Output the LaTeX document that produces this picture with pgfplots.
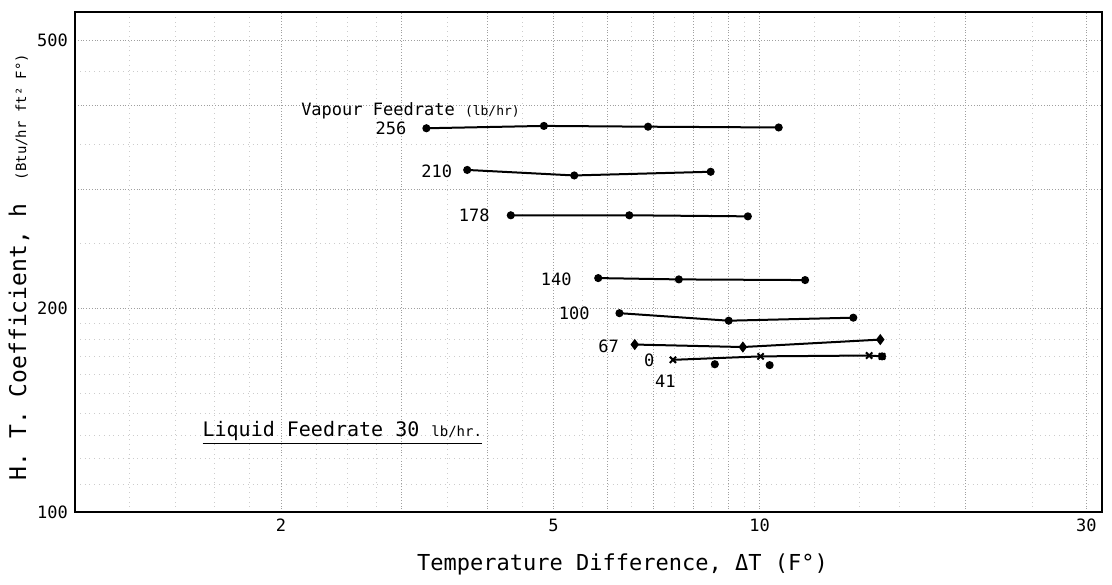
\documentclass[border=0pt]{standalone}
\usepackage{fontspec}
\setmainfont{DejaVu Sans Mono}
\usepackage{pgfplots}
\pgfplotsset{compat=1.18}

\begin{document}
\begin{tikzpicture}
\useasboundingbox (-37.5pt,-36pt) rectangle (518.5pt,256pt);
\begin{axis}[
    at={(0,0)}, anchor=south west,
    scale only axis,
    width=513.5pt, height=250pt,
    xmode=log, ymode=log,
    xmin=1, xmax=31.62, ymin=100, ymax=550,
    axis line style={line width=1.4pt},
    xtick={2,3,4,5,6,7,8,9,10,20,30},
    xticklabels={2,,,5,,,,,10,,30},
    ytick={100,200,300,400,500},
    yticklabels={100,200,,,500},
    minor xtick={1.2,1.4,1.6,1.8,2.25,2.5,2.75,3.5,4.5,5.5,6.5,7.5,8.5,9.5,12,14,16,18,25},
    minor ytick={110,120,130,140,150,160,170,180,190,250,350,450},
    major tick length=0pt, minor tick length=0pt,
    grid=both,
    major grid style={gray!75, densely dotted, line width=0.4pt},
    minor grid style={gray!40, dotted, line width=0.3pt},
    tick label style={font=\fontsize{8.5}{9}\selectfont},
    /pgf/number format/assume math mode=true,
    xlabel={Temperature Difference, ΔT (F°)},
    xlabel style={at={(axis description cs:0.5,0)}, anchor=center, yshift=-26pt, xshift=17pt,
      font=\fontsize{11}{12}\selectfont},
    ylabel={H. T. Coefficient, h\quad{\fontsize{7}{8}\selectfont (Btu/hr ft² F°)}},
    ylabel style={at={(axis description cs:-0.0545,0.49)}, anchor=center,
      font=\fontsize{11.5}{12}\selectfont},
    every axis plot/.append style={black, line width=1pt, mark size=1.5pt},
    clip=false,
]
% vapour feedrate 256
\addplot[mark=*] coordinates {(3.26,370) (4.84,373) (6.87,372) (10.66,371)};
% 210
\addplot[mark=*] coordinates {(3.74,321) (5.36,315) (8.48,319)};
% 178
\addplot[mark=*] coordinates {(4.33,275) (6.45,275) (9.61,274)};
% 140
\addplot[mark=*] coordinates {(5.81,222) (7.62,221) (11.65,220.5)};
% 100
\addplot[mark=*] coordinates {(6.24,197) (9.01,192) (13.7,194)};
% 67
\addplot[mark=diamond*, mark size=2pt] coordinates {(6.57,177) (9.45,175.5) (15.0,180)};
% 0
\addplot[mark=x, mark size=2.2pt] coordinates {(7.47,168) (10.03,170) (14.45,170.5) (15.09,170)};
% 41
\addplot[only marks, mark=*] coordinates {(8.60,165.5) (10.34,165) (15.09,170)};

\node[anchor=west, font=\fontsize{8.5}{9}\selectfont] at (axis cs:2.09,393)
  {Vapour Feedrate {\fontsize{6.5}{7}\selectfont(lb/hr)}};
\node[anchor=east, font=\fontsize{8.5}{9}\selectfont] at (axis cs:3.12,370) {256};
\node[anchor=east, font=\fontsize{8.5}{9}\selectfont] at (axis cs:3.64,320) {210};
\node[anchor=east, font=\fontsize{8.5}{9}\selectfont] at (axis cs:4.13,275) {178};
\node[anchor=east, font=\fontsize{8.5}{9}\selectfont] at (axis cs:5.44,221) {140};
\node[anchor=east, font=\fontsize{8.5}{9}\selectfont] at (axis cs:5.78,197) {100};
\node[anchor=east, font=\fontsize{8.5}{9}\selectfont] at (axis cs:6.38,176) {67};
\node[font=\fontsize{8.5}{9}\selectfont] at (axis cs:6.9,168) {0};
\node[font=\fontsize{8.5}{9}\selectfont] at (axis cs:7.28,156) {41};
\node[anchor=west, font=\fontsize{10}{11}\selectfont] at (axis cs:1.50,131)
  {\underline{Liquid Feedrate 30 {\fontsize{7}{8}\selectfont lb/hr.}}};
\end{axis}
\end{tikzpicture}
\end{document}
